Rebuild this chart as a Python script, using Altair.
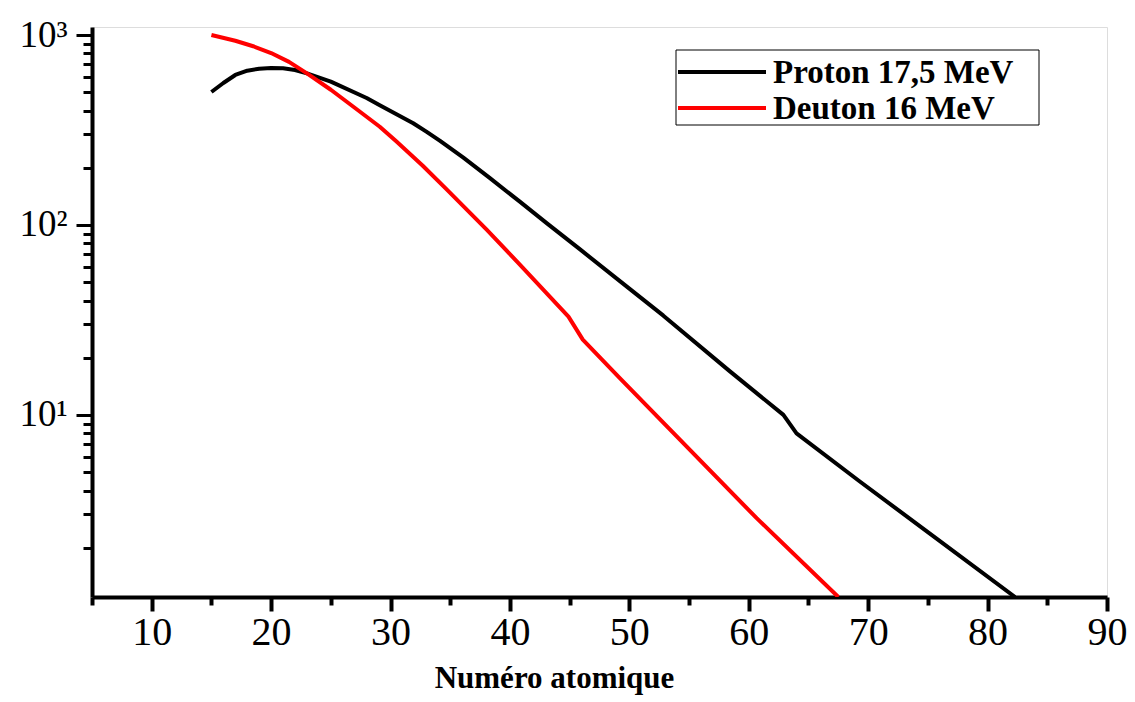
import altair as alt
import pandas as pd

# Proton 17,5 MeV curve (atomic number, value)
proton_z = [15, 16, 17, 18, 19, 20, 21, 22, 23, 25, 28, 29.1, 30.5, 31.9, 33.0, 34.15, 36.1, 38.3, 40.8, 43.1, 45.9,
            50.0, 52.85, 58.4, 62.9, 64.0, 69.3, 75.7, 82.3]
proton_v = [501, 559, 616, 649, 665, 670, 668, 654, 628, 568, 466, 427, 383, 343, 310, 277, 226, 177, 133, 102, 74.1,
            46.2, 33.3, 17.0, 10.0, 8.0, 4.46, 2.24, 1.1]

# Deuton 16 MeV curve
deuton_z = [15, 17, 18.5, 20, 21.5, 23, 25, 27, 29.1, 30.5, 32.7, 34.7, 38.05, 40.85, 44.9, 46.1, 49.2, 60.66, 67.5]
deuton_v = [1000, 933, 873, 804, 722, 628, 515, 414, 329, 275, 205, 154, 94.4, 61.7, 32.9, 24.9, 15.6, 2.86, 1.1]

series_names = ["Proton 17,5 MeV", "Deuton 16 MeV"]
series_colors = ["#000000", "#ff0000"]

x_ticks = list(range(5, 91, 5))
y_ticks = [m * 10 ** e for e in range(0, 3) for m in range(1, 10)] + [1000]
y_ticks = [v for v in y_ticks if v >= 2]

rows = []
for z, v in zip(proton_z, proton_v):
    rows.append({"z": z, "v": v, "s": series_names[0]})
for z, v in zip(deuton_z, deuton_v):
    rows.append({"z": z, "v": v, "s": series_names[1]})
df = pd.DataFrame(rows)

leg = pd.DataFrame({"s": series_names, "o": [0, 1]})

FONT = "Liberation Serif"
color_scale = alt.Scale(domain=series_names, range=series_colors)

lines = alt.Chart(df).mark_line(strokeWidth=4, clip=True, strokeJoin="round").encode(
    x=alt.X(
        "z:Q",
        scale=alt.Scale(domain=[5, 90], nice=False, zero=False),
        axis=alt.Axis(
            values=x_ticks,
            title="Numéro atomique",
            titleFont=FONT,
            titleFontSize=31,
            titleFontWeight="bold",
            titleColor="black",
            titleX=462,
            titleY=90,
            titleAlign="center",
            titleBaseline="alphabetic",
            labelFont=FONT,
            labelFontSize=40,
            labelColor="black",
            labelExpr="datum.value % 10 == 0 ? datum.label : ''",
            labelPadding=1,
            labelFlush=False,
            labelOverlap=False,
            tickSize={"expr": "datum.value % 10 == 0 ? 14 : 8"},
            tickWidth=4,
            tickColor="black",
            domainWidth=4,
            domainColor="black",
            grid=False,
        ),
    ),
    y=alt.Y(
        "v:Q",
        scale=alt.Scale(type="log", domain=[1.1, 1102], nice=False),
        axis=alt.Axis(
            values=y_ticks,
            title=None,
            labelFont=FONT,
            labelFontSize=37,
            labelColor="black",
            labelExpr="datum.value == 1000 ? '10³' : datum.value == 100 ? '10²' : datum.value == 10 ? '10¹' : ''",
            labelPadding=9,
            labelOverlap=False,
            labelFlush=False,
            tickSize={"expr": "indexof([10, 100, 1000], datum.value) >= 0 ? 16 : 9"},
            tickWidth=3,
            tickColor="black",
            domainWidth=4,
            domainColor="black",
            grid=False,
        ),
    ),
    color=alt.Color("s:N", scale=color_scale, legend=None),
    detail="s:N",
    order="z:Q",
)

legend_box = alt.Chart(pd.DataFrame({"k": [0]})).mark_rect(
    fill="white", stroke="black", strokeWidth=1
).encode(
    x=alt.value(584), x2=alt.value(947), y=alt.value(23), y2=alt.value(98)
)

leg_y = alt.Y("o:Q", scale=alt.Scale(domain=[0, 1], range=[45, 81]), axis=None)

legend_lines = alt.Chart(leg).mark_rule(strokeWidth=4).encode(
    x=alt.value(586),
    x2=alt.value(674),
    y=leg_y,
    color=alt.Color("s:N", scale=color_scale, legend=None),
)

legend_text = alt.Chart(leg).mark_text(
    align="left", baseline="middle", font=FONT, fontSize=33, fontWeight="bold", color="black", dy=1
).encode(
    x=alt.value(681),
    y=leg_y,
    text="s:N",
)

chart = alt.layer(lines, legend_box, legend_lines, legend_text).resolve_scale(
    y="independent"
).properties(
    width=1015,
    height=570,
    autosize=alt.AutoSizeParams(type="none"),
    padding={"left": 84, "top": 19, "right": 20, "bottom": 100},
).configure_view(
    stroke="black",
    strokeWidth=2,
).configure(background="white")

chart.save("out.html", embed_options={"renderer": "svg", "actions": False})
